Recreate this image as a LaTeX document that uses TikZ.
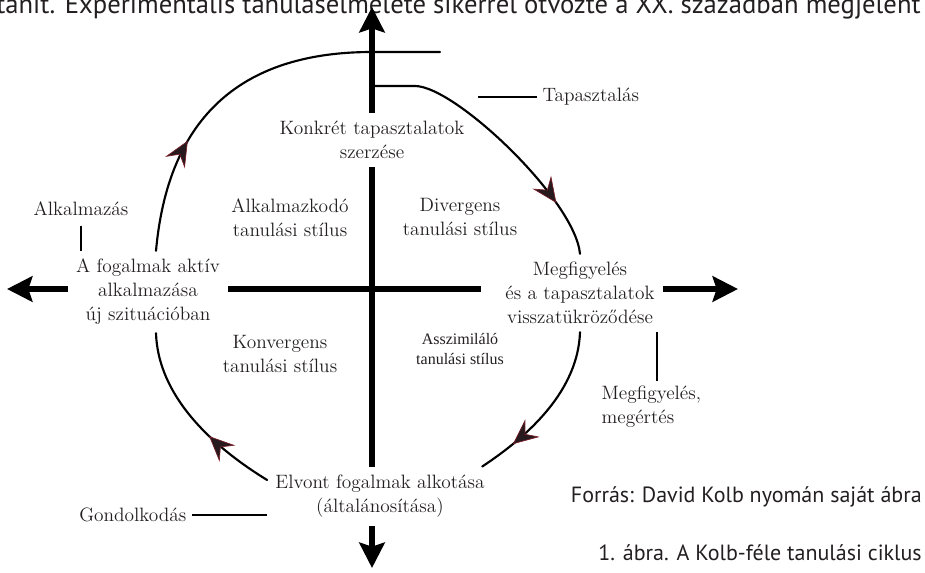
\documentclass[tikz,border=0pt]{standalone}
\usepackage{fontspec}
\newfontfamily\captionfont{PT Sans}
\newfontfamily\timesfont{Liberation Serif}
\usepackage{tikz}
\usetikzlibrary{arrows.meta, decorations.markings, calc}
\definecolor{tipfill}{RGB}{38,26,30}
\definecolor{tipedge}{RGB}{120,30,40}
\definecolor{inktext}{RGB}{35,31,32}
\tikzset{
	phase/.style={align=center, inner sep=6pt, text=inktext, font=\fontsize{14.5}{18}\selectfont}
}
\tikzset{
	stylelabel/.style={align=center, inner sep=4pt, text=inktext, font=\fontsize{14.5}{18}\selectfont}
}
\tikzset{
	sidelabel/.style={inner sep=4pt, text=inktext, font=\fontsize{14.5}{18}\selectfont}
}
\tikzset{
	captiontext/.style={inner sep=0pt, text=inktext, font=\captionfont\fontsize{16.5}{20}\selectfont}
}
\tikzset{
	axis/.style={line width=4.5pt, -{Stealth[length=19pt,width=19pt,inset=3pt]}},
	axisline/.style={line width=4.5pt},
	leader/.style={line width=1.5pt},
	cycleline/.style={line width=1.6pt, line cap=round},
	cyclearrow/.style={postaction={decorate}, decoration={markings,
		mark=at position #1 with {\arrow{Stealth[length=19pt,width=17pt,inset=7pt,color=tipedge,fill=tipfill,line width=0.5pt]}}}}
}

\begin{document}
\begin{tikzpicture}[x=0.75pt, y=-0.75pt]
      \useasboundingbox (0,0) rectangle (925,572);
      % clipped line of the page above
      \node[captiontext, anchor=base west, font=\captionfont\fontsize{20}{24}\selectfont] (pagetext) at (-4,13)
        {tanít. Experimentális tanulásélmélete sikerrel ötvözte a XX. században megjelent a};
      % the four phases
      \node[phase] (konkret) at (372,140) {Konkrét tapasztalatok\\szerzése};
      \node[phase] (fogalmak) at (148,292) {A fogalmak aktív\\alkalmazása\\új szituációban};
      \node[phase] (megfigy) at (580,293) {Megfigyelés\\és a tapasztalatok\\visszatükröződése};
      \node[phase] (elvont) at (380,496) {Elvont fogalmak alkotása\\(általánosítása)};
      % learning styles
      \node[stylelabel] (alkkodo) at (290,218) {Alkalmazkodó\\tanulási stílus};
      \node[stylelabel] (diverg) at (460,217) {Divergens\\tanulási stílus};
      \node[stylelabel] (konverg) at (280,354) {Konvergens\\tanulási stílus};
      \node[align=center, inner sep=2pt, text=inktext, font=\timesfont\fontsize{12}{15}\selectfont] (asszim) at (460,349) {Asszimiláló\\tanulási stílus};
      % side labels
      \node[sidelabel, anchor=west] (tapaszt) at (537,97) {Tapasztalás};
      \node[sidelabel] (alkalmazas) at (81,209) {Alkalmazás};
      \node[sidelabel, anchor=west, align=left] (megert) at (596,407) {Megfigyelés,\\megértés};
      \node[sidelabel, anchor=east] (gondolk) at (192,515) {Gondolkodás};
      % source and caption
      \node[captiontext, anchor=east] (forras) at (922,497) {Forrás: David Kolb nyomán saját ábra};
      \node[captiontext, anchor=east] (abra) at (922,553) {1. ábra. A Kolb-féle tanulási ciklus};
      % axes
      \coordinate (origo) at (372,289);
      \coordinate (fent) at (372,7);
      \coordinate (lent) at (372,568);
      \coordinate (bal) at (7,289);
      \coordinate (jobb) at (738,289);
      \draw[axis] (konkret.north -| origo) -- (fent);
      \draw[axisline] (konkret.south -| origo) -- (elvont.north -| origo);
      \draw[axis] (elvont.south -| origo) -- (lent);
      \draw[axis] (fogalmak.west |- origo) -- (bal);
      \draw[axisline, shorten >=12pt] (fogalmak.east |- origo) -- (megfigy.west |- origo);
      \draw[axis] (megfigy.east |- origo) -- (jobb);
      % learning cycle
      \coordinate (ivveg) at (440,52);
      \coordinate (ivkezd) at (375,86);
      \draw[cycleline, cyclearrow=0.29] ([xshift=6pt]fogalmak.north)
        .. controls (166,140) and (220,52) .. (372,52) -- (ivveg);
      \draw[cycleline, cyclearrow=0.8] (ivkezd) -- (415,86)
        .. controls (455,86) and (575,200) .. (megfigy.north);
      \draw[cycleline, cyclearrow=0.78] (megfigy.south)
        .. controls (578,390) and (530,435) .. ([xshift=-8pt]elvont.north east);
      \draw[cycleline, cyclearrow=0.38] ([yshift=12pt]elvont.west)
        .. controls (210,445) and (158,395) .. ([xshift=6pt]fogalmak.south);
      % leader lines
      \draw[leader] (478,97) -- (tapaszt.west);
      \draw[leader] ([yshift=-3pt]alkalmazas.south) -- (alkalmazas.south |- fogalmak.north);
      \draw[leader] ([xshift=-4pt]megfigy.south east) -- ([xshift=-4pt]megfigy.south east |- megert.north);
      \draw[leader] (gondolk.east) -- (gondolk.east -| elvont.west);
    \end{tikzpicture}
\end{document}
